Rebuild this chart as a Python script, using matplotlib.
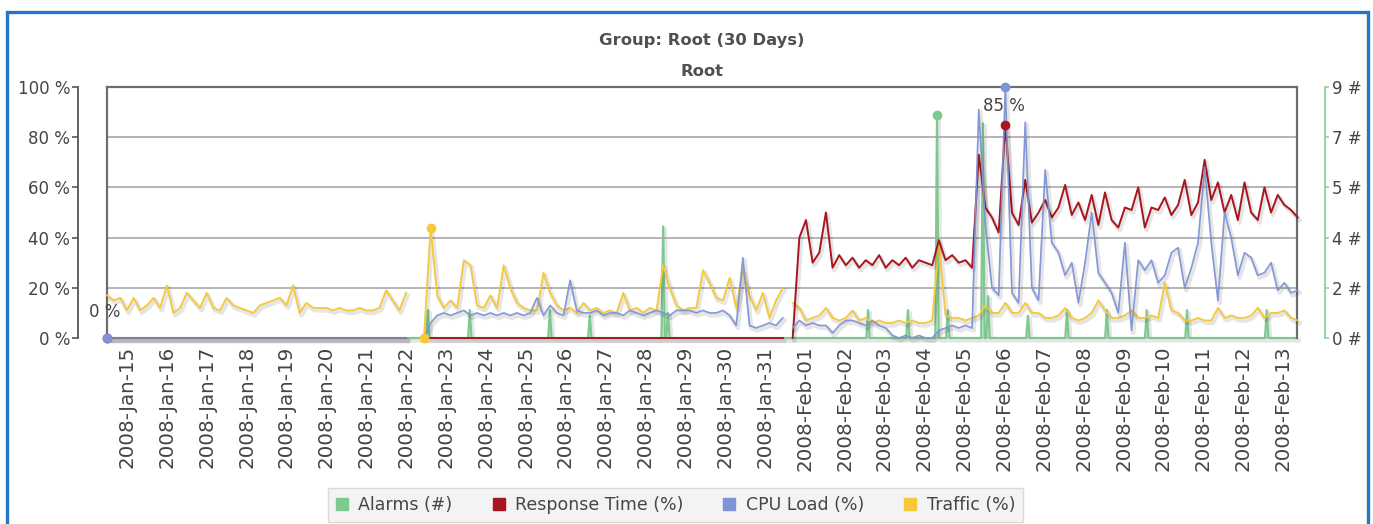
import matplotlib
matplotlib.use("Agg")
import matplotlib.pyplot as plt
import numpy as np
from matplotlib import patheffects as pe
from matplotlib.lines import Line2D
from matplotlib.patches import Rectangle

# ---------------- data (days since 2008-Jan-15 00:00, 4-hour samples) ----------------
STEP = 1 / 6
END_DAY = 29.85

day_labels = [
    "2008-Jan-15", "2008-Jan-16", "2008-Jan-17", "2008-Jan-18", "2008-Jan-19",
    "2008-Jan-20", "2008-Jan-21", "2008-Jan-22", "2008-Jan-23", "2008-Jan-24",
    "2008-Jan-25", "2008-Jan-26", "2008-Jan-27", "2008-Jan-28", "2008-Jan-29",
    "2008-Jan-30", "2008-Jan-31", "2008-Feb-01", "2008-Feb-02", "2008-Feb-03",
    "2008-Feb-04", "2008-Feb-05", "2008-Feb-06", "2008-Feb-07", "2008-Feb-08",
    "2008-Feb-09", "2008-Feb-10", "2008-Feb-11", "2008-Feb-12", "2008-Feb-13",
]

# Traffic (%)
traffic_jan_start = 0.0
traffic_jan = [17, 15, 16, 11, 16, 11, 13, 16, 12, 21, 10, 12, 18, 15, 12, 18, 12, 11, 16, 13,
               12, 11, 10, 13, 14, 15, 16, 13, 21, 10, 14, 12, 12, 12, 11, 12, 11, 11, 12, 11,
               11, 12, 19, 15, 11, 18]
traffic_mid_start = 7.95
traffic_mid = [0, 44, 17, 12, 15, 12, 31, 29, 13, 12, 17, 12, 29, 20, 14, 12, 11, 11, 26, 18,
               13, 11, 12, 10, 14, 11, 12, 10, 11, 10, 18, 11, 12, 10, 12, 11, 29, 20, 13, 11,
               12, 12, 27, 22, 16, 15, 24, 12, 27, 17, 11, 18, 8, 15, 20]
traffic_feb_start = 17.2
traffic_feb = [14, 12, 7, 8, 9, 12, 8, 7, 8, 11, 7, 8, 6, 7, 6, 6, 7, 6, 7, 6,
               6, 7, 38, 9, 8, 8, 7, 8, 9, 13, 10, 10, 14, 10, 10, 14, 10, 10, 8, 8,
               9, 12, 8, 7, 8, 10, 15, 11, 8, 8, 9, 11, 8, 8, 9, 8, 22, 11, 10, 7,
               7, 8, 7, 7, 12, 8, 9, 8, 8, 9, 12, 8, 10, 10, 11, 8, 7]

# CPU Load (%)
cpu_idle_days = [0.0, 7.5]
cpu_idle = [0, 0]
cpu_mid_start = 7.95
cpu_mid = [0, 6, 9, 10, 9, 10, 11, 9, 10, 9, 10, 9, 10, 9, 10, 9, 10, 16, 9, 13,
           10, 9, 23, 11, 10, 10, 11, 9, 10, 10, 9, 11, 10, 9, 10, 11, 10, 9, 11, 11,
           11, 10, 11, 10, 10, 11, 9, 5, 32, 5, 4, 5, 6, 5, 8]
cpu_feb_start = 17.2
cpu_feb = [4, 7, 5, 6, 5, 5, 2, 5, 7, 7, 6, 5, 7, 5, 4, 1, 0, 1, 0, 1,
           0, 0, 3, 4, 5, 4, 5, 4, 91, 45, 20, 17, 100, 18, 14, 86, 20, 15, 67, 38,
           34, 25, 30, 14, 30, 50, 26, 22, 18, 10, 38, 3, 31, 27, 31, 22, 25, 34, 36, 20,
           28, 38, 68, 38, 15, 50, 40, 25, 34, 32, 25, 26, 30, 19, 22, 18, 19]

# Response Time (%)
resp_idle_days = [0.0, 7.5, 7.95, 16.95]
resp_idle = [0, 0, 0, 0]
resp_feb_start = 17.2
resp_feb = [0, 40, 47, 30, 34, 50, 28, 33, 29, 32, 28, 31, 29, 33, 28, 31, 29, 32, 28, 31,
            30, 29, 39, 31, 33, 30, 31, 28, 73, 52, 48, 42, 85, 50, 45, 63, 46, 50, 55, 48,
            52, 61, 49, 54, 47, 57, 45, 58, 47, 44, 52, 51, 60, 44, 52, 51, 56, 49, 53, 63,
            49, 54, 71, 55, 62, 50, 57, 47, 62, 50, 47, 60, 50, 57, 53, 51, 48]

# Alarms (#) – hourly counts, zero except at these hours
alarm_days = [8.05, 9.10, 11.11, 12.11, 13.95, 14.07, 19.09, 20.09, 20.82, 21.09,
              21.97, 22.10, 23.10, 24.08, 25.08, 26.08, 27.09, 29.09]
alarm_counts = [1, 1, 1, 0.8, 4, 0.9, 1, 1, 8, 1, 7.7, 1.5, 0.8, 1, 1, 1, 1, 1]

series_names = ["Alarms (#)", "Response Time (%)", "CPU Load (%)", "Traffic (%)"]
colors = {"alarm": "#7DC990", "resp": "#A8171F", "cpu": "#7F93D6", "traffic": "#F5C93A"}

right_ticks = [0, 1.8, 3.6, 5.4, 7.2, 9]
right_labels = ["0 #", "2 #", "4 #", "5 #", "7 #", "9 #"]
left_ticks = [0, 20, 40, 60, 80, 100]
left_labels = ["0 %", "20 %", "40 %", "60 %", "80 %", "100 %"]

# ---------------- figure ----------------
plt.rcParams["font.family"] = ["DejaVu Sans"]
TXT = "#454545"
PX = 72 / 100  # points per pixel

W, H = 1373, 524
fig = plt.figure(figsize=(W / 100, H / 100), dpi=100)
ax = fig.add_axes([107 / W, 1 - 338 / H, 1190 / W, 251 / H])
ax2 = ax.twinx()
ax.set_zorder(ax2.get_zorder() + 1)
ax.patch.set_visible(False)


def seg(start, vals):
    v = np.asarray(vals, dtype=float)
    return start + STEP * np.arange(len(v)), v


shadow = [pe.SimpleLineShadow(offset=(1.2, -1.8), shadow_color="#000000", alpha=0.10,
                              linewidth=3.2),
          pe.Normal()]

# Alarms on right axis (hourly)
hour = 1 / 24
al_days = [0.0]
al_vals = [0.0]
for d, c in zip(alarm_days, alarm_counts):
    al_days += [d - hour, d, d + hour]
    al_vals += [0.0, c, 0.0]
al_days.append(END_DAY)
al_vals.append(0.0)
ax2.plot(al_days, al_vals, color=colors["alarm"], lw=1.6, path_effects=shadow, clip_on=False)
imax = int(np.argmax(alarm_counts))
ax2.plot([alarm_days[imax]], [alarm_counts[imax]], "o", color=colors["alarm"], ms=6,
         zorder=5, clip_on=False)

# Traffic
tr_segs = [seg(traffic_jan_start, traffic_jan), seg(traffic_mid_start, traffic_mid),
           seg(traffic_feb_start, traffic_feb)]
for x, y in tr_segs:
    ax.plot(x, y, color=colors["traffic"], lw=1.3, path_effects=shadow, zorder=2, clip_on=False)

# CPU
cpu_segs = [(np.array(cpu_idle_days), np.array(cpu_idle, float)),
            seg(cpu_mid_start, cpu_mid), seg(cpu_feb_start, cpu_feb)]
# Response
resp_segs = [(np.array(resp_idle_days[:2]), np.array(resp_idle[:2], float)),
             (np.array(resp_idle_days[2:]), np.array(resp_idle[2:], float)),
             seg(resp_feb_start, resp_feb)]
for x, y in resp_segs:
    ax.plot(x, y, color=colors["resp"], lw=1.4, path_effects=shadow, zorder=3, clip_on=False)
for x, y in cpu_segs:
    ax.plot(x, y, color=colors["cpu"], lw=1.2, path_effects=shadow, zorder=4, clip_on=False,
            alpha=0.95)


def extremes(segs):
    xs = np.concatenate([s[0] for s in segs])
    ys = np.concatenate([s[1] for s in segs])
    return (xs[np.argmin(ys)], ys.min()), (xs[np.argmax(ys)], ys.max())


(rmnx, rmny), (rmxx, rmxy) = extremes(resp_segs)
(cmnx, cmny), (cmxx, cmxy) = extremes(cpu_segs)
(tmnx, tmny), (tmxx, tmxy) = extremes(tr_segs)
mk = dict(ms=6, zorder=6, clip_on=False, ls="none", marker="o")
ax.plot([rmnx, rmxx], [rmny, rmxy], color=colors["resp"], **mk)
ax.plot([cmnx, cmxx], [cmny, cmxy], color=colors["cpu"], **mk)
ax.plot([tmnx, tmxx], [tmny, tmxy], color=colors["traffic"], **mk)

ax.annotate(f"{cmny:.0f} %", (cmnx, cmny), xytext=(-1.5, 18.5), textcoords="offset points",
            ha="center", va="center", fontsize=12, color=TXT, zorder=7)
ax.annotate(f"{rmxy:.0f} %", (rmxx, rmxy), xytext=(-1, 13.5), textcoords="offset points",
            ha="center", va="center", fontsize=12, color=TXT, zorder=7)

# axes styling
ax.set_xlim(0, END_DAY)
ax.set_ylim(0, 100)
ax2.set_ylim(0, 9)
ax.set_yticks(left_ticks)
ax.set_yticklabels(left_labels)
ax.yaxis.grid(True, color="#A8A8A8", lw=1.2)
ax.set_axisbelow(True)
ax.set_xticks(np.arange(len(day_labels)) + 0.5)
ax.set_xticklabels(day_labels, rotation=90, fontsize=14.3, color=TXT)
ax.tick_params(axis="x", length=0, pad=5.5)
ax.tick_params(axis="y", direction="out", length=4, width=1.2, color="#555555",
               labelsize=12, labelcolor=TXT, pad=1.5)
for s in ["top", "right", "bottom"]:
    ax.spines[s].set_visible(False)
ax.spines["left"].set_position(("outward", 29 * PX))
ax.spines["left"].set_color("#555555")
ax.spines["left"].set_linewidth(1.3)

for s in ["top", "left", "bottom"]:
    ax2.spines[s].set_visible(False)
ax2.spines["right"].set_position(("outward", 28 * PX))
ax2.spines["right"].set_color("#8FD1A0")
ax2.spines["right"].set_linewidth(1.3)
ax2.set_yticks(right_ticks)
ax2.set_yticklabels(right_labels)
ax2.tick_params(axis="y", direction="out", length=3, width=1.2, color="#8FD1A0",
                labelsize=12, labelcolor=TXT, pad=2)

# plot frame (top, left, right)
frame_kw = dict(transform=ax.transAxes, color="#6E6E6E", lw=1.6, clip_on=False, zorder=1)
ax.plot([0, 1], [1, 1], **frame_kw)
ax.plot([0, 0], [0, 1], **frame_kw)
ax.plot([1, 1], [0, 1], **frame_kw)

# titles
fig.text(702 / W, 1 - 40 / H, "Group: Root (30 Days)", ha="center", va="center",
         fontsize=11.8, fontweight="bold", color="#505050")
fig.text(702 / W, 1 - 71 / H, "Root", ha="center", va="center",
         fontsize=11.8, fontweight="bold", color="#505050")

# legend
handles = [Line2D([], [], ls="none", marker="s", ms=9, color=colors[k])
           for k in ["alarm", "resp", "cpu", "traffic"]]
leg = fig.legend(handles, series_names, loc="center", bbox_to_anchor=(675.5 / W, 1 - 505 / H),
                 ncol=4, fontsize=12.5, frameon=True, fancybox=False, facecolor="#F3F3F3",
                 edgecolor="#DADADA", framealpha=1, handlelength=0.7, handletextpad=0.6,
                 columnspacing=2.3, borderpad=0.45)
for t in leg.get_texts():
    t.set_color(TXT)

# outer blue border
fig.patches.append(Rectangle((7 / W, -0.1), (1368 - 7) / W, 1.1 - 12 / H,
                             transform=fig.transFigure, fill=False,
                             edgecolor="#2576C6", lw=2.4, zorder=10))

fig.savefig("out.png", dpi=100)
